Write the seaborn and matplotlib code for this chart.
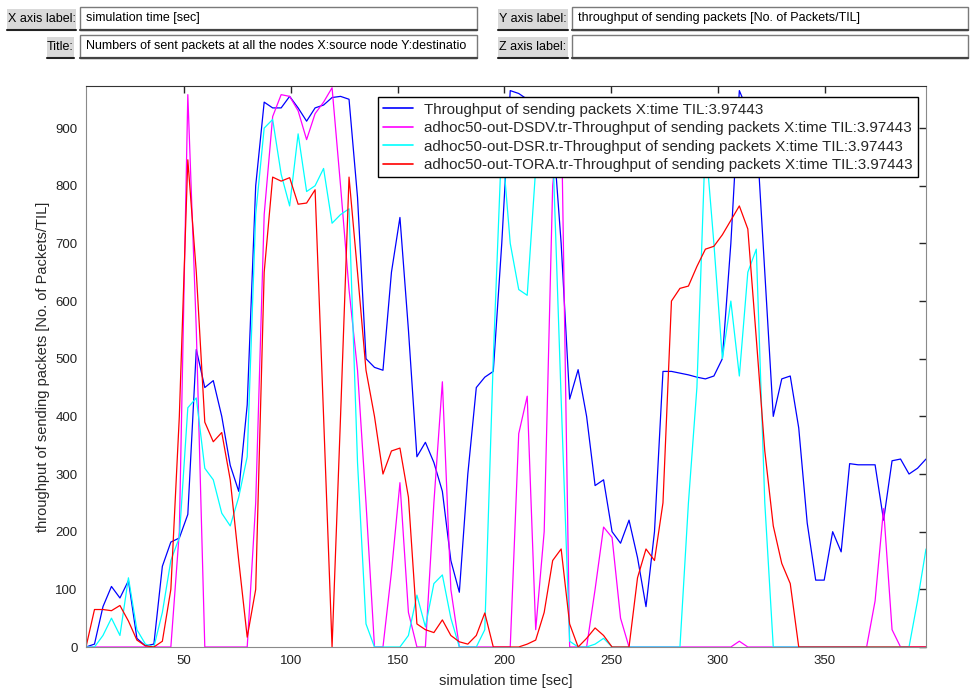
import numpy as np
import pandas as pd
import matplotlib
matplotlib.use("Agg")
import matplotlib.pyplot as plt
from matplotlib.patches import Rectangle
from matplotlib.lines import Line2D
import seaborn as sns

# sampling interval of the trace (seconds per bin)
TIL = 3.97443
time_sec = np.arange(1, 101) * TIL

# throughput per bin
total = [0, 5, 70, 105, 85, 115, 15, 2, 5, 140,
         182, 189, 230, 516, 450, 462, 400, 315, 270, 420,
         800, 945, 935, 935, 955, 935, 912, 935, 940, 953,
         955, 950, 780, 500, 485, 480, 650, 745, 550, 330,
         355, 320, 270, 150, 95, 300, 450, 468, 478, 700,
         965, 960, 950, 930, 945, 900, 700, 430, 481, 400,
         280, 290, 200, 180, 220, 155, 70, 200, 478, 478,
         475, 472, 468, 465, 470, 500, 700, 965, 930, 900,
         650, 400, 465, 470, 380, 215, 116, 116, 200, 165,
         318, 316, 316, 316, 220, 323, 326, 300, 310, 326]
dsdv = [0, 0, 0, 0, 0, 0, 0, 0, 0, 0,
        0, 200, 958, 550, 0, 0, 0, 0, 0, 0,
        250, 750, 920, 958, 955, 930, 880, 925, 945, 970,
        800, 620, 480, 250, 0, 0, 130, 285, 60, 0,
        0, 250, 460, 100, 0, 0, 0, 0, 0, 0,
        0, 370, 435, 30, 200, 800, 950, 0, 0, 0,
        100, 208, 190, 50, 0, 0, 0, 0, 0, 0,
        0, 0, 0, 0, 0, 0, 0, 10, 0, 0,
        0, 0, 0, 0, 0, 0, 0, 0, 0, 0,
        0, 0, 0, 80, 240, 30, 0, 0, 0, 0]
dsr = [0, 0, 20, 50, 20, 120, 30, 5, 0, 60,
       150, 190, 415, 432, 310, 290, 232, 210, 260, 330,
       750, 900, 915, 820, 765, 890, 790, 800, 830, 735,
       750, 760, 320, 40, 0, 0, 0, 0, 20, 90,
       35, 110, 125, 50, 0, 0, 0, 30, 500, 880,
       700, 620, 610, 830, 900, 870, 430, 10, 0, 0,
       5, 15, 0, 0, 0, 0, 0, 0, 0, 0,
       0, 250, 450, 880, 700, 500, 600, 470, 650, 690,
       250, 0, 0, 0, 0, 0, 0, 0, 0, 0,
       0, 0, 0, 0, 0, 0, 0, 0, 80, 170]
tora = [0, 65, 65, 63, 72, 45, 12, 2, 0, 10,
        100, 400, 845, 650, 390, 356, 372, 290, 150, 17,
        100, 650, 815, 808, 814, 768, 770, 793, 400, 0,
        400, 815, 650, 480, 400, 300, 340, 345, 260, 40,
        30, 25, 47, 20, 9, 5, 20, 59, 0, 0,
        0, 0, 5, 12, 60, 150, 170, 40, 0, 15,
        33, 20, 0, 0, 0, 120, 170, 150, 250, 600,
        622, 626, 660, 690, 695, 715, 740, 765, 725, 535,
        340, 210, 145, 110, 0, 0, 0, 0, 0, 0,
        0, 0, 0, 0, 0, 0, 0, 0, 0, 0]

series_names = [
    "Throughput of sending packets X:time TIL:3.97443",
    "adhoc50-out-DSDV.tr-Throughput of sending packets X:time TIL:3.97443",
    "adhoc50-out-DSR.tr-Throughput of sending packets X:time TIL:3.97443",
    "adhoc50-out-TORA.tr-Throughput of sending packets X:time TIL:3.97443",
]
series_colors = ["#0000ff", "#ff00ff", "#00ffff", "#ff0000"]

W, H = 972, 690


def px_box(x0, y0, x1, y1):
    # pixel box (top-left origin) -> figure coords (left, bottom, width, height)
    return x0 / W, 1 - y1 / H, (x1 - x0) / W, (y1 - y0) / H


sns.set_style("white")
plt.rcParams['font.family'] = ['Liberation Sans', 'DejaVu Sans']

fig = plt.figure(figsize=(W / 100, H / 100), dpi=100)
ax = fig.add_axes(px_box(86, 86, 926, 647))

frames = []
for name, vals in zip(series_names, [total, dsdv, dsr, tora]):
    frames.append(pd.DataFrame({"time": time_sec, "value": vals, "series": name}))
df = pd.concat(frames, ignore_index=True)

sns.lineplot(data=df, x="time", y="value", hue="series", hue_order=series_names,
             palette=dict(zip(series_names, series_colors)), estimator=None,
             sort=False, linewidth=0.9, legend=False, ax=ax)

ax.set_xlim(TIL, 100 * TIL)
ax.set_ylim(0, 973)
ax.set_xticks([50, 100, 150, 200, 250, 300, 350])
ax.set_yticks(range(0, 1000, 100))
ax.tick_params(direction="in", length=5, width=1, top=True, right=True,
               labelsize=9.5, labelcolor="#222222", pad=6)
ax.set_xlabel("simulation time [sec]", fontsize=10.5, labelpad=5)
ax.set_ylabel("throughput of sending packets [No. of Packets/TIL]", fontsize=10.5, labelpad=4)
for side in ["left", "bottom", "right"]:
    ax.spines[side].set_color("#8a8a8a")
ax.spines["top"].set_color("#333333")

handles = [Line2D([0], [0], color=c, lw=1.2) for c in series_colors]
leg = ax.legend(handles, series_names, loc="upper right", bbox_to_anchor=(0.990, 0.980),
                borderaxespad=0, frameon=True, fancybox=False, framealpha=1,
                edgecolor="black", fontsize=10.9, handlelength=2.0,
                handletextpad=0.7, labelspacing=0.3, borderpad=0.35)
leg.get_frame().set_linewidth(1.0)

# settings panel above the plot
panel_font = 9


def label_button(x0, y0, x1, y1, text):
    fig.add_artist(Rectangle(px_box(x0, y0, x1, y1)[:2], (x1 - x0) / W, (y1 - y0) / H,
                             transform=fig.transFigure, facecolor="#d9d9d9", edgecolor="none"))
    fig.add_artist(Line2D([x0 / W, x1 / W], [1 - y1 / H, 1 - y1 / H],
                          transform=fig.transFigure, color="#222222", lw=1.5))
    fig.text((x0 + x1) / 2 / W, 1 - (y0 + y1) / 2 / H, text, ha="center", va="center",
             fontsize=panel_font, color="black")


def text_field(x0, y0, x1, y1, text):
    fig.add_artist(Rectangle(px_box(x0, y0, x1, y1)[:2], (x1 - x0) / W, (y1 - y0) / H,
                             transform=fig.transFigure, facecolor="white",
                             edgecolor="#7a7a7a", lw=1.0))
    fig.add_artist(Line2D([x0 / W, x1 / W], [1 - y1 / H, 1 - y1 / H],
                          transform=fig.transFigure, color="#444444", lw=1.6))
    if text:
        fig.text((x0 + 6) / W, 1 - (y0 + y1) / 2 / H, text, ha="left", va="center",
                 fontsize=panel_font, color="black")


label_button(7, 9, 76, 30, "X axis label:")
text_field(80, 7, 477, 30, "simulation time [sec]")
label_button(47, 37, 74, 58, "Title:")
text_field(80, 35, 477, 58, "Numbers of sent packets at all the nodes X:source node Y:destinatio")
label_button(498, 9, 568, 30, "Y axis label:")
text_field(572, 7, 968, 30, "throughput of sending packets [No. of Packets/TIL]")
label_button(498, 37, 568, 58, "Z axis label:")
text_field(572, 35, 968, 58, "")

fig.savefig("out.png", dpi=100)
